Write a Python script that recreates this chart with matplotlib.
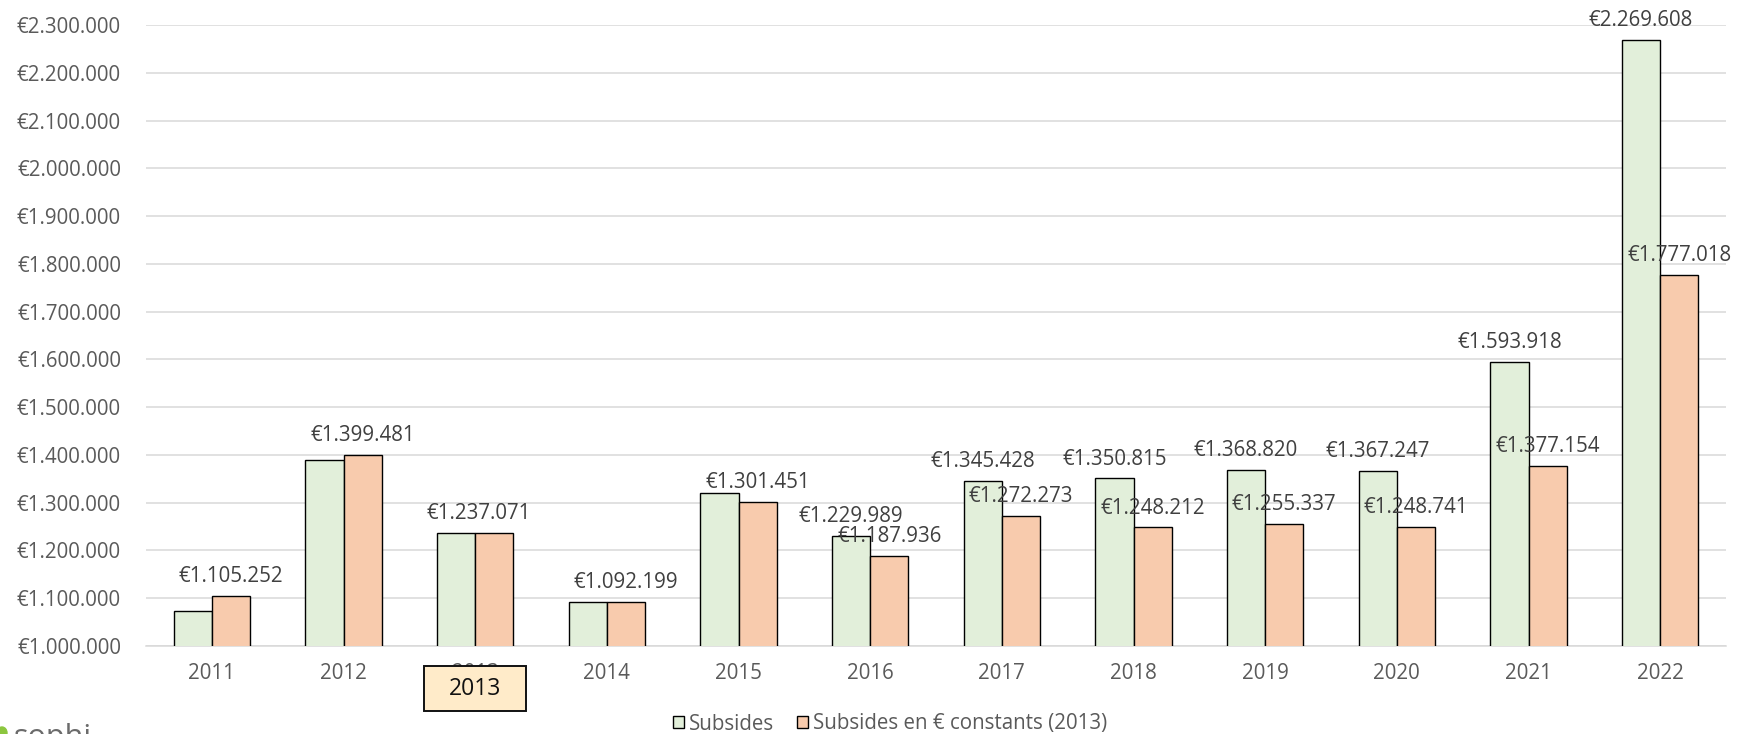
import numpy as np
import matplotlib
matplotlib.use("Agg")
import matplotlib.pyplot as plt
from matplotlib.patches import Rectangle, Ellipse
from matplotlib.transforms import blended_transform_factory

# ---- data ----
years = ["2011", "2012", "2013", "2014", "2015", "2016",
         "2017", "2018", "2019", "2020", "2021", "2022"]
subsides = [1074000, 1390000, 1237071, 1092199, 1320400, 1229989,
            1345428, 1350815, 1368820, 1367247, 1593918, 2269608]
subsides_constants = [1105252, 1399481, 1237071, 1092199, 1301451, 1187936,
                      1272273, 1248212, 1255337, 1248741, 1377154, 1777018]
show_label_subsides = [False, False, False, False, False, True,
                       True, True, True, True, True, True]
show_label_constants = [True] * 12
series_names = ["Subsides", "Subsides en € constants (2013)"]
y_ticks = np.arange(1000000, 2300001, 100000)

plt.rcParams['font.family'] = ['Open Sans', 'DejaVu Sans']

W, H = 1744, 734
fig = plt.figure(figsize=(W / 100, H / 100), dpi=100)
ax = fig.add_axes([146 / W, 1 - 646 / H, 1580 / W, (646 - 25.2) / H])

x = np.arange(len(years))
bw = 0.29
green = '#E2EFDA'
orange = '#F8CBAD'
FS = 14.8
b1 = ax.bar(x - bw / 2, subsides, bw, color=green, edgecolor='black',
            linewidth=1.0, label=series_names[0], zorder=3)
b2 = ax.bar(x + bw / 2, subsides_constants, bw, color=orange, edgecolor='black',
            linewidth=1.0, label=series_names[1], zorder=3)

ax.set_xlim(-0.5, len(years) - 0.5)
ax.set_ylim(y_ticks[0], y_ticks[-1])
ax.set_yticks(y_ticks)

def fmt(v):
    return '€' + f"{v:,.0f}".replace(',', '.')

ax.set_yticklabels([fmt(v) for v in y_ticks])
ax.set_xticks(x)
ax.set_xticklabels(years)
ax.tick_params(axis='y', length=0, pad=18, labelsize=FS, labelcolor='#5A5A5A')
ax.tick_params(axis='x', length=0, pad=12.5, labelsize=FS, labelcolor='#5A5A5A')
ax.grid(axis='y', color='#D9D9D9', linewidth=1.1, zorder=0)
ax.set_axisbelow(True)
for s in ['top', 'right', 'left']:
    ax.spines[s].set_visible(False)
ax.spines['bottom'].set_color('#D9D9D9')
ax.spines['bottom'].set_linewidth(1.1)

label_dx = {2: -11}  # manual nudge (points) of the 2013 label
for i in range(len(years)):
    if show_label_subsides[i]:
        ax.annotate(fmt(subsides[i]), (x[i] - bw / 2, subsides[i]),
                    xytext=(0, 10), textcoords='offset points',
                    ha='center', va='baseline', fontsize=FS,
                    color='#404040', zorder=5, annotation_clip=False)
    if show_label_constants[i]:
        ax.annotate(fmt(subsides_constants[i]), (x[i] + bw / 2, subsides_constants[i]),
                    xytext=(label_dx.get(i, 0), 10), textcoords='offset points',
                    ha='center', va='baseline', fontsize=FS,
                    color='#404040', zorder=5, annotation_clip=False)

# highlighted 2013 box under the axis
tr = blended_transform_factory(ax.transData, fig.transFigure)
hi = years.index("2013")
box_w = 102 / (1580 / 12)
rect = Rectangle((x[hi] - box_w / 2, 1 - 711 / H), box_w, (711 - 665.7) / H,
                 transform=tr, facecolor='#FFEBC9', edgecolor='#111111',
                 linewidth=1.4, clip_on=False, zorder=10)
ax.add_patch(rect)
ax.text(x[hi], 1 - 689 / H, "2013", transform=tr, ha='center', va='center',
        fontsize=16.5, color='#111111', zorder=11, clip_on=False)

# legend
leg = fig.legend(handles=[b1, b2], labels=series_names, loc='center',
                 bbox_to_anchor=(890 / W, 1 - 724 / H), ncol=2, frameon=False,
                 fontsize=FS, handlelength=0.55, handleheight=0.55,
                 handletextpad=0.25, columnspacing=1.1, labelcolor='#5A5A5A')

# partial logo at bottom-left (cut by the figure edge, as in the original)
fig.text(13 / W, 1 - 746 / H, "sophi", fontsize=22, color='#6B6B6B',
         ha='left', va='baseline')
fig.patches.append(Ellipse((2 / W, 1 - 733 / H), 10 / W, 12 / H,
                           transform=fig.transFigure, color='#8CC63F'))

fig.savefig("out.png", dpi=100, facecolor='white')
